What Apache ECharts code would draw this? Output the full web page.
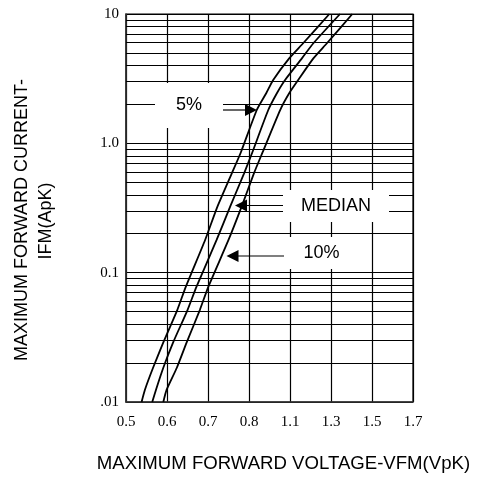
<!DOCTYPE html>
<html>
<head>
<meta charset="utf-8">
<script src="https://cdn.jsdelivr.net/npm/echarts@6/dist/echarts.min.js"></script>
<style>
  html, body { margin: 0; padding: 0; background: #fff; }
  #vfm_chart { width: 477px; height: 479px; }
</style>
</head>
<body>
<div id="vfm_chart"></div>
<script>
  // x ticks are evenly spaced, the labels are not linear
  let xTickLabels = ['0.5', '0.6', '0.7', '0.8', '1.1', '1.3', '1.5', '1.7']
  let yTickLabels = { 0.01: '.01', 0.1: '0.1', 1: '1.0', 10: '10' }
  let minorGridValues = [0.02, 0.03, 0.04, 0.05, 0.06, 0.07, 0.08, 0.09,
    0.2, 0.3, 0.4, 0.5, 0.6, 0.7, 0.8, 0.9,
    2, 3, 4, 5, 6, 7, 8, 9]

  // [x tick position, IFM]
  let fivePct = [[0.38, 0.01], [0.46, 0.0124], [0.66, 0.0184], [0.91, 0.0289], [1.25, 0.0514],
    [1.46, 0.078], [1.93, 0.179], [2.23, 0.324], [2.58, 0.586], [2.8, 0.85],
    [3.19, 1.81], [3.42, 2.44], [3.59, 3.09], [3.98, 4.54], [4.32, 5.94], [4.96, 10]]
  let median = [[0.64, 0.01], [0.73, 0.0124], [0.91, 0.0184], [1.15, 0.0289], [1.5, 0.0514],
    [1.72, 0.078], [2.21, 0.179], [2.54, 0.324], [2.88, 0.586], [3.08, 0.85],
    [3.47, 1.81], [3.68, 2.44], [3.88, 3.09], [4.29, 4.54], [4.57, 5.94], [5.22, 10]]
  let tenPct = [[0.91, 0.01], [0.99, 0.0124], [1.24, 0.0184], [1.48, 0.0289], [1.8, 0.0514],
    [2.01, 0.078], [2.5, 0.179], [2.82, 0.324], [3.12, 0.586], [3.33, 0.85],
    [3.76, 1.81], [3.98, 2.44], [4.2, 3.09], [4.57, 4.54], [4.9, 5.94], [5.52, 10]]

  let myChart = echarts.init(document.getElementById('vfm_chart'))
  let font = '18px "Liberation Sans", Arial, sans-serif'

  let curve = function (name, data) {
    return {
      name: name,
      type: 'line',
      data: data,
      smooth: 0.2,
      symbol: 'none',
      z: 3,
      lineStyle: { color: '#000', width: 1.8 }
    }
  }

  let box = function (x, y, w, h, text) {
    return [{
      type: 'rect',
      z: 100,
      shape: { x: x, y: y, width: w, height: h },
      style: { fill: '#fff' }
    }, {
      type: 'text',
      z: 101,
      x: x + w / 2,
      y: y + h / 2,
      style: { text: text, fill: '#000', font: font, align: 'center', verticalAlign: 'middle' }
    }]
  }

  let arrow = function (x1, x2, tip, y, left) {
    let base = left ? tip + 12 : tip - 12
    return [{
      type: 'line',
      z: 101,
      shape: { x1: x1, y1: y, x2: x2, y2: y },
      style: { stroke: '#000', lineWidth: 1.2 }
    }, {
      type: 'polygon',
      z: 101,
      shape: { points: [[tip, y], [base, y - 6], [base, y + 6]] },
      style: { fill: '#000' }
    }]
  }

  let title = function (x, y, text, rotate, size) {
    return {
      type: 'text',
      x: x,
      y: y,
      rotation: rotate ? Math.PI / 2 : 0,
      style: {
        text: text,
        fill: '#000',
        font: size + 'px "Liberation Sans", Arial, sans-serif',
        align: 'center',
        verticalAlign: 'middle'
      }
    }
  }

  let graphics = [].concat(
    box(155, 83, 68, 45, '5%'),
    arrow(223, 245, 257, 110, false),
    box(283, 190, 106, 32, 'MEDIAN'),
    arrow(246, 283, 235, 205.5, true),
    box(283, 237, 77, 32, '10%'),
    arrow(237, 284, 226.5, 256, true),
    [
      title(283.5, 464, 'MAXIMUM FORWARD VOLTAGE-VFM(VpK)', false, 18.6),
      title(22.5, 220, 'MAXIMUM FORWARD CURRENT-', true, 18),
      title(46.5, 221, 'IFM(ApK)', true, 18)
    ]
  )

  let option = {
    animation: false,
    backgroundColor: '#fff',
    grid: {
      left: 126,
      right: 64,
      top: 14,
      bottom: 77,
      show: true,
      borderColor: '#000',
      borderWidth: 1.2
    },
    xAxis: {
      type: 'value',
      min: 0,
      max: 7,
      interval: 1,
      axisLine: { show: true, lineStyle: { color: '#333', width: 1.5 } },
      axisTick: { show: false },
      axisLabel: {
        color: '#000',
        fontFamily: '"Liberation Serif", "Times New Roman", serif',
        fontSize: 15,
        margin: 13,
        formatter: function (v) {
          return xTickLabels[Math.round(v)]
        }
      },
      splitLine: { show: true, lineStyle: { color: '#000', width: 1.2 } }
    },
    yAxis: {
      type: 'log',
      logBase: 10,
      min: 0.01,
      max: 10,
      axisLine: { show: true, lineStyle: { color: '#333', width: 1.5 } },
      axisTick: { show: false },
      axisLabel: {
        color: '#000',
        fontFamily: '"Liberation Serif", "Times New Roman", serif',
        fontSize: 15,
        margin: 7,
        formatter: function (v) {
          return yTickLabels[v] !== undefined ? yTickLabels[v] : ''
        }
      },
      splitLine: { show: true, lineStyle: { color: '#000', width: 1.2 } }
    },
    series: [
      {
        name: 'grid',
        type: 'line',
        data: [],
        z: 1,
        silent: true,
        markLine: {
          silent: true,
          symbol: 'none',
          label: { show: false },
          lineStyle: { color: '#000', width: 1.2, type: 'solid' },
          data: minorGridValues.map(function (v) {
            return { yAxis: v }
          })
        }
      },
      curve('5%', fivePct),
      curve('MEDIAN', median),
      curve('10%', tenPct)
    ],
    graphic: graphics
  }

  myChart.setOption(option)
</script>
</body>
</html>
